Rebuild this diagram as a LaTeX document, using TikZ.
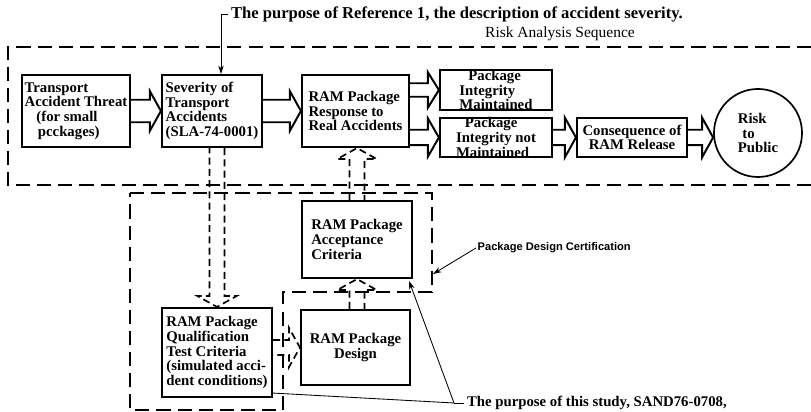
\documentclass[tikz,border=0pt]{standalone}
\usepackage{fontspec}
\setmainfont{Liberation Serif}
\newfontfamily\labelsans{Liberation Sans}
\usetikzlibrary{arrows.meta,calc,shapes}

\tikzset{
  box/.style={draw, rectangle, line width=1.5pt, align=left, inner xsep=2pt, inner ysep=1pt,
    font=\fontsize{10.5}{10.4}\selectfont\bfseries},
  flatbox/.style={box, inner ysep=-2pt},
  dashbox/.style={line width=1.3pt, dash pattern=on 10pt off 5pt},
  hollow/.style={line width=1.4pt, line join=miter},
  dashhollow/.style={line width=1.2pt, dash pattern=on 5pt off 3pt},
  leader/.style={line width=0.6pt},
  tip/.style={-{Stealth[length=6pt,width=4pt]}},
  note/.style={font=\fontsize{10.5}{12}\selectfont\bfseries, inner sep=2pt},
}

% hollow block arrow: [style]{start}{tip}{half shaft}{half head}
\newcommand{\blockarrow}[5][hollow]{%
  \coordinate (ba-c) at ($(#3)!7.8pt!(#2)$);
  \draw[#1] ($(#2)!#4!90:(#3)$) -- ($(ba-c)!#4!90:(#3)$) -- ($(ba-c)!#5!90:(#3)$)
    -- (#3) -- ($(ba-c)!#5!-90:(#3)$) -- ($(ba-c)!#4!-90:(#3)$) -- ($(#2)!#4!-90:(#3)$);
}

\begin{document}
\begin{tikzpicture}[x=0.025cm,y=0.025cm]
  \useasboundingbox (0,0) rectangle (811,412);

  % Risk analysis sequence
  \node[box, minimum width=2.7cm, minimum height=1.8cm] (threat) at (76,301)
    {Transport\\Accident Threat\\\hspace*{0.8em}(for small\\\hspace*{0.9em}pcckages)};
  \node[box, minimum width=2.5cm, minimum height=1.8cm] (severity) at (212,301)
    {Severity of\\Transport\\Accidents\\(SLA-74-0001)};
  \node[box, minimum width=2.675cm, minimum height=1.8cm] (response) at (355.5,301)
    {RAM Package\\Response to\\Real Accidents};
  \node[flatbox, minimum width=2.8cm, minimum height=1cm] (pim) at (496,322)
    {\hspace*{0.6em}Package\\Integrity\\Maintained};
  \node[flatbox, minimum width=2.8cm, minimum height=0.975cm] (pinm) at (496,274.5)
    {\hspace*{0.6em}Package\\Integrity not\\Maintained};
  \node[box, align=center, minimum width=2.75cm, minimum height=0.975cm] (conseq) at (632,274.5)
    {Consequence of\\RAM Release};
  \node[box, circle, line width=1.2pt, minimum size=2.2cm] (risk) at (758,279)
    {Risk\\\hspace*{0.3em}to\\Public};

  % Package design certification
  \node[box, minimum width=2.75cm, minimum height=1.925cm] (accept) at (357,172.5)
    {RAM Package\\Acceptance\\Criteria};
  \node[box, align=center, minimum width=2.725cm, minimum height=1.875cm] (design) at (355.5,64.5)
    {RAM Package\\Design};
  \node[box, minimum width=2.75cm, minimum height=2.225cm] (qual) at (217,59.5)
    {RAM Package\\Qualification\\Test Criteria\\(simulated acci-\\dent conditions)};

  % Texts
  \node[note, font=\fontsize{11.8}{13}\selectfont\bfseries, anchor=west] (topnote) at (228,398)
    {The purpose of Reference 1, the description of accident severity.};
  \node[font=\fontsize{11}{12}\selectfont, anchor=base] (seqlabel) at (560,374) {Risk Analysis Sequence};
  \node[font=\labelsans\bfseries\fontsize{7.9}{9}\selectfont, anchor=west, inner sep=1pt] (certlabel) at (476,164)
    {Package Design Certification};
  \node[note, anchor=west] (studynote) at (464,9) {The purpose of this study, SAND76-0708,};

  % Dashed outlines
  \draw[dashbox] (811,365) -- (8,365) -- (8,227) -- (811,227);
  \draw[dashbox] (130,219) -- (432,219) -- (432,120) -- (283,120) -- (283,2) -- (130,2) -- cycle;

  % Block arrows
  \blockarrow{threat.east}{severity.west}{8pt}{14pt}
  \blockarrow{severity.east}{response.west}{8pt}{14pt}
  \coordinate (r1) at (response.east |- pim.west);
  \coordinate (r2) at (response.east |- pinm.west);
  \blockarrow{r1}{pim.west}{4.8pt}{12.5pt}
  \blockarrow{r2}{pinm.west}{5.5pt}{13.5pt}
  \blockarrow{pinm.east}{conseq.west}{5.5pt}{14pt}
  \coordinate (r3) at (risk.west |- conseq.east);
  \blockarrow{conseq.east}{r3}{5.5pt}{14pt}

  % Dashed block arrows
  \coordinate (d1) at (qual.north |- severity.south);
  \blockarrow[dashhollow]{d1}{qual.north}{5.3pt}{14pt}
  \coordinate (d2) at (accept.north |- response.south);
  \blockarrow[dashhollow]{accept.north}{d2}{5.3pt}{14pt}
  \coordinate (d3) at (accept.south |- design.north);
  \blockarrow[dashhollow]{d3}{accept.south}{5.3pt}{14pt}
  \coordinate (d4) at (qual.east |- design.west);
  \blockarrow[dashhollow]{d4}{design.west}{5.3pt}{14pt}

  % Leader lines
  \draw[leader, tip] (topnote.west) -- ++(-7,0) coordinate (tn) -- (tn |- severity.north);
  \coordinate (certedge) at (433,138);
  \draw[leader, tip] (certlabel.west) -- (certedge);
  \draw[leader] (studynote.west) -- ++(-10,0) coordinate (sn);
  \draw[leader, tip] (sn) -- ($(accept.south east)+(-4,-2)$);
  \draw[leader] (sn) -- ($(qual.south east)+(0,5)$);
\end{tikzpicture}
\end{document}
